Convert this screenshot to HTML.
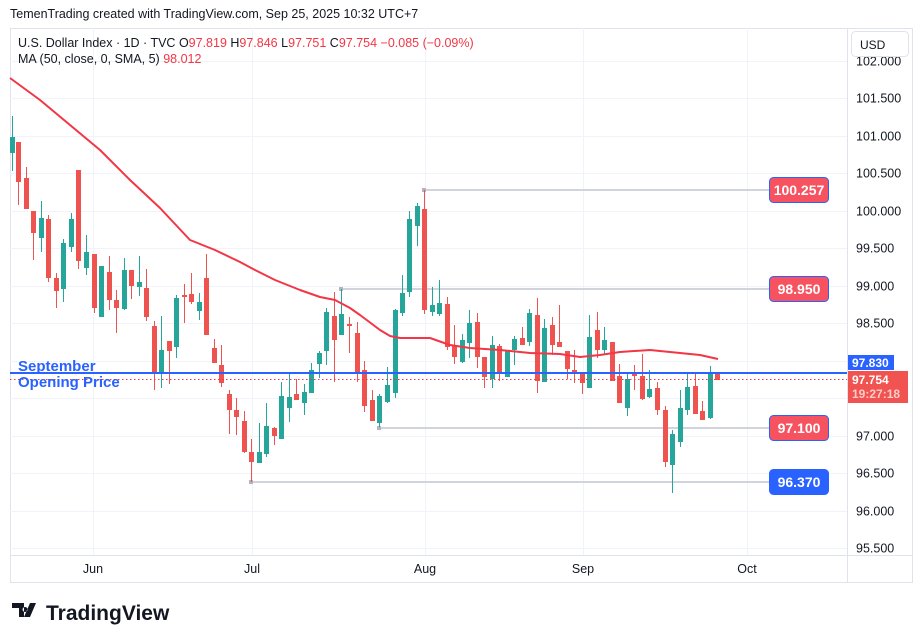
<!DOCTYPE html>
<html><head><meta charset="utf-8"><style>
body{margin:0;background:#fff;width:923px;height:643px;overflow:hidden;font-family:"Liberation Sans",sans-serif}
svg{position:absolute;left:0;top:0}
</style></head><body>
<svg id="s" width="923" height="643" xmlns="http://www.w3.org/2000/svg" font-family="Liberation Sans, sans-serif">
<text x="10" y="18" font-size="12.5" fill="#131722">TemenTrading created with TradingView.com, Sep 25, 2025 10:32 UTC+7</text>
<rect x="10.5" y="28.5" width="902" height="554" fill="none" stroke="#e0e3eb"/>
<g id="grid" stroke="#f0f3fa" stroke-width="1"></g>
<line x1="847.5" y1="28" x2="847.5" y2="583" stroke="#e0e3eb"/>
<line x1="10" y1="555.5" x2="913" y2="555.5" stroke="#e0e3eb"/>
<g id="lv"></g>
<g id="c"></g>
<polyline fill="none" stroke="#f23645" stroke-width="2" stroke-linejoin="round" points="10,78 40,100 70,125 100,150 130,180 160,208 190,240 215,250 240,262 255,270 275,280 300,290 320,297 335,300 350,308 360,315 380,330 390,336 400,338 430,338 450,345 470,348 500,350 530,353 560,354 580,357 600,355 620,352 650,350 680,353 700,355 718,359"/>
<line x1="10" y1="373" x2="847" y2="373" stroke="#2962ff" stroke-width="2"/>
<line x1="10" y1="379.5" x2="847" y2="379.5" stroke="#f23645" stroke-dasharray="1.5,2.5"/>
<text x="18" y="371" font-size="15" font-weight="bold" fill="#2962ff">September</text>
<text x="18" y="387" font-size="15" font-weight="bold" fill="#2962ff">Opening Price</text>
<text x="18" y="47" font-size="12.5" fill="#131722">U.S. Dollar Index · 1D · TVC  <tspan>O</tspan><tspan fill="#f23645">97.819</tspan> H<tspan fill="#f23645">97.846</tspan> L<tspan fill="#f23645">97.751</tspan> C<tspan fill="#f23645">97.754</tspan> <tspan fill="#f23645">−0.085 (−0.09%)</tspan></text>
<text x="18" y="63" font-size="12.5" fill="#131722">MA (50, close, 0, SMA, 5) <tspan fill="#f23645">98.012</tspan></text>
<g id="ax" font-size="12.5" fill="#131722"></g>
<rect x="851.5" y="31.5" width="57" height="25" rx="4" fill="#fff" stroke="#e0e3eb"/>
<text x="860" y="49" font-size="12" fill="#131722">USD</text>
<rect x="848" y="355" width="46" height="15" fill="#2962ff"/>
<text x="852" y="367" font-size="12" font-weight="bold" fill="#fff">97.830</text>
<rect x="848" y="371" width="60" height="32" fill="#f05350"/>
<text x="852" y="384" font-size="12" font-weight="bold" fill="#fff">97.754</text>
<text x="852" y="398" font-size="12" font-weight="bold" fill="#fcc">19:27:18</text>
<g font-size="12.5" fill="#131722" text-anchor="middle">
<text x="93" y="573">Jun</text><text x="252" y="573">Jul</text><text x="425" y="573">Aug</text><text x="583" y="573">Sep</text><text x="747" y="573">Oct</text>
</g>
<g transform="translate(12,603)"><path d="M0 0h12v14h-5v-9h-7z M13 4a2.5 2.5 0 1 0 0.1 0z M18 0h6l-6 14h-6z" fill="#131722"/></g>
<text x="46" y="620" font-size="21" font-weight="bold" fill="#131722">TradingView</text>
</svg>
<script>
var NS="http://www.w3.org/2000/svg",s=document.getElementById('s');
function el(p,t,a){var e=document.createElementNS(NS,t);for(var k in a)e.setAttribute(k,a[k]);p.appendChild(e);return e;}
var g=document.getElementById('grid'),ax=document.getElementById('ax');
function Y(p){return 61+(102-p)*74.92;}
for(var i=0;i<=13;i++){var p=102-i*0.5,y=Math.round(Y(p))+0.5;el(g,'line',{x1:10,x2:847,y1:y,y2:y});
 var t=el(ax,'text',{x:856,y:y+4});t.textContent=p.toFixed(3);}
[93,252,425,583,747].forEach(function(x){el(g,'line',{x1:x+.5,x2:x+.5,y1:28,y2:555});});
var d=[[12,1,137,153,116,171],[18,0,142,182,142,205],[26,0,178,209,167,209],[33,0,211,233,211,260],[41,1,218,238,201,252],[48,0,219,278,215,282],[56,0,278,291,273,308],[63,1,243,289,239,302],[71,1,219,247,213,252],[78,0,170,261,170,269],[86,1,252,268,235,275],[94,0,254,308,254,313],[101,1,266,317,266,317],[109,0,272,300,256,310],[116,0,300,308,290,333],[124,1,270,309,258,310],[131,0,270,286,270,299],[139,1,282,287,256,296],[146,0,288,317,269,321],[154,0,326,373,321,390],[161,1,350,374,316,388],[169,0,341,351,341,384],[176,1,298,347,295,358],[184,0,295,297,284,323],[191,0,294,302,273,304],[199,1,302,311,293,320],[206,0,278,335,254,335],[214,0,348,363,339,363],[221,0,365,383,345,387],[229,0,394,410,390,434],[236,0,410,417,398,435],[244,0,421,452,411,453],[251,0,452,462,439,482],[259,1,452,463,423,463],[266,1,426,454,403,457],[274,0,428,436,427,445],[281,1,396,439,382,439],[289,1,397,408,373,422],[296,0,394,400,379,400],
[304,1,392,403,384,415],[311,1,370,393,363,393],[319,1,353,364,351,378],[326,1,312,351,308,365],[334,0,316,340,292,382],[341,1,314,335,289,335],[349,0,324,326,317,353],[357,0,333,373,322,382],[364,0,370,406,361,412],[372,0,400,421,390,421],[379,1,396,423,394,427],[387,1,385,402,367,403],[395,1,310,393,309,398],[402,1,293,313,275,316],[409,1,219,292,211,297],[417,1,206,226,203,246],[424,0,209,310,190,314],[432,1,305,312,287,316],[439,1,303,314,280,316],[447,0,304,347,297,350],[454,0,346,357,325,364],[462,1,340,362,334,363],[469,1,323,343,310,358],[477,0,322,357,313,368],[484,0,357,377,357,388],[492,1,345,379,336,388],[499,0,346,373,344,381],[507,1,350,377,350,377],[514,1,339,350,336,365],[522,0,338,345,327,345],[529,1,313,342,309,346],[537,0,315,381,298,393],[544,1,328,382,319,382],[552,0,325,345,317,355],[559,0,342,347,305,347],[567,0,351,369,351,379],[574,0,370,373,350,383],[582,0,372,383,372,394],[589,1,337,388,315,388],[597,0,330,350,312,358],[604,1,340,350,327,354],[612,0,342,381,342,381],[619,0,376,403,364,403],[627,1,379,408,373,416],[634,0,373,376,365,390],[642,0,376,399,354,400],[649,1,389,397,370,398],[657,0,388,410,382,415],[665,0,410,462,406,467],[672,1,434,465,430,493],[680,1,408,442,390,447],[687,1,387,410,373,415],[695,0,386,414,373,414],[702,0,411,420,401,420],[710,1,372,418,366,419],[717,0,373,380,373,380]];
var c=document.getElementById('c');
d.forEach(function(r){var col=r[1]?'#26a69a':'#ef5350';el(c,'line',{x1:r[0]+.5,x2:r[0]+.5,y1:r[4],y2:r[5],stroke:col});
 el(c,'rect',{x:r[0]-2,y:r[2],width:5,height:Math.max(2,r[3]-r[2]),fill:col});});
var lv=document.getElementById('lv');
[[424,190,'100.257',0],[341,289,'98.950',0],[379,428,'97.100',0],[251,482,'96.370',1]].forEach(function(l){
 el(lv,'line',{x1:l[0],x2:788,y1:l[1],y2:l[1],stroke:'#d1d4dc',"stroke-width":2});
 el(lv,'rect',{x:l[0]-2,y:l[1]-2,width:4,height:4,fill:'#b2b5be'});
 el(lv,'rect',{x:769.5,y:l[1]-12.5,width:59,height:25,rx:4,fill:l[3]?'#2962ff':'#f7525f',stroke:'#2962ff'});
 var t=el(lv,'text',{x:799,y:l[1]+5,"font-size":14,"font-weight":"bold",fill:'#fff',"text-anchor":"middle"});t.textContent=l[2];});
</script>
</body></html>
